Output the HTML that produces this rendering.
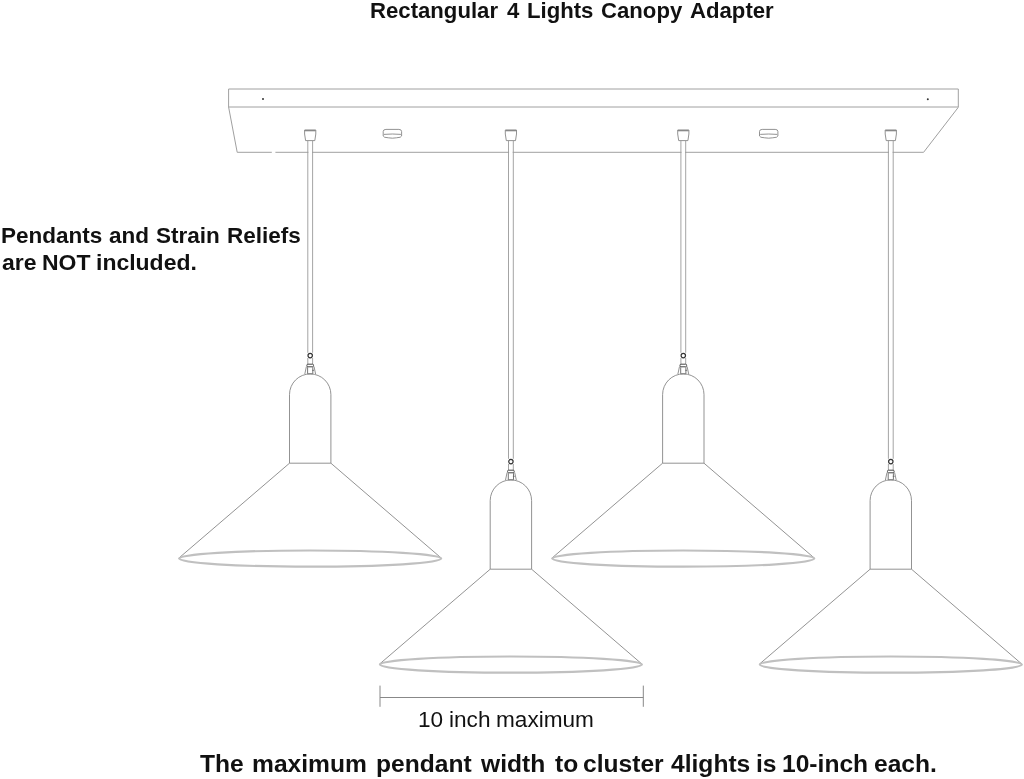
<!DOCTYPE html>
<html><head><meta charset="utf-8"><style>
html,body{margin:0;padding:0;background:#fff;width:1024px;height:779px;overflow:hidden;}
body{position:relative;font-family:"Liberation Sans",sans-serif;color:#111;}
svg{position:absolute;left:0;top:0;}
.ln{fill:none;stroke:#808080;stroke-width:0.85;}
.can{fill:none;stroke:#a0a0a0;stroke-width:1;}
.cord{fill:none;stroke:#9a9a9a;stroke-width:0.9;}
.dk{fill:none;stroke:#444;stroke-width:1;}
.dk2{fill:none;stroke:#333;stroke-width:1.2;}
.mid{fill:none;stroke:#666;stroke-width:0.9;}
.band{fill:none;stroke:#888;stroke-width:1.4;}
.ln2{fill:none;stroke:#888;stroke-width:1;}
.rim{fill:none;stroke:#c0c0c0;stroke-width:2.2;}
.rim2{fill:none;stroke:#c4c4c4;stroke-width:1;}
.t{position:absolute;white-space:nowrap;font-weight:bold;transform-origin:0 0;}
.w{position:absolute;white-space:nowrap;transform-origin:0 0;will-change:transform;}
.tl{top:-2px;font-size:22px;font-weight:bold;}
.n1{top:221.5px;font-size:22px;line-height:27.8px;font-weight:bold;}
.n2{top:249.3px;font-size:22px;line-height:27.8px;font-weight:bold;}
.dm{top:707px;font-size:22px;}
.ft{top:751px;font-size:23px;font-weight:bold;}
</style></head><body>
<svg width="1024" height="779" viewBox="0 0 1024 779">
<path class="can" d="M228.6,89 H958.3 V107 H228.6 Z M228.6,107 L237.2,152.3 H923.6 L958.3,107.3"/>
<path d="M271.8,150.8 v3 h3.6 v-3 z" fill="#fff"/>
<circle cx="263" cy="99" r="1" fill="#333"/><circle cx="927.8" cy="99.3" r="1" fill="#333"/>
<path class="ln" d="M304.6,130 H315.8 V134 L314.8,140.6 H305.6 L304.6,134 Z"/><path class="band" d="M304.8,130.6 H315.6"/>
<rect x="308.4" y="150.8" width="3.6" height="3" fill="#fff"/>
<path class="ln" d="M505.3,130 H516.5 V134 L515.5,140.6 H506.3 L505.3,134 Z"/><path class="band" d="M505.5,130.6 H516.3"/>
<rect x="509.1" y="150.8" width="3.6" height="3" fill="#fff"/>
<path class="ln" d="M677.7,130 H688.9 V134 L687.9,140.6 H678.7 L677.7,134 Z"/><path class="band" d="M677.9,130.6 H688.7"/>
<rect x="681.5" y="150.8" width="3.6" height="3" fill="#fff"/>
<path class="ln" d="M885.2,130 H896.4 V134 L895.4,140.6 H886.2 L885.2,134 Z"/><path class="band" d="M885.4,130.6 H896.2"/>
<rect x="889.0" y="150.8" width="3.6" height="3" fill="#fff"/>
<path class="ln" d="M383.2,131.5 Q383.2,129.4 385.9,129.4 H398.9 Q401.6,129.4 401.6,131.5 V136 Q401.4,137.6 396.4,137.8 Q392.4,138.6 388.4,137.8 Q383.4,137.6 383.2,136 Z M383.9,134.4 Q392.4,133.6 400.9,134.4"/>
<path class="ln" d="M759.5,131.5 Q759.5,129.4 762.2,129.4 H775.2 Q777.9,129.4 777.9,131.5 V136 Q777.7,137.6 772.7,137.8 Q768.7,138.6 764.7,137.8 Q759.7,137.6 759.5,136 Z M760.2,134.4 Q768.7,133.6 777.2,134.4"/>
<path class="cord" d="M307.80,141 V352.8 M312.60,141 V352.8 M307.80,358.0 V364.0 M312.60,358.0 V364.0"/>
<circle class="dk2" cx="310.2" cy="355.6" r="2.2"/>
<rect class="dk" x="306.9" y="364.2" width="6.6" height="2.6" rx="1"/>
<path class="ln" d="M306.4,366.5 L304.8,374.0 M314.0,366.5 L315.6,374.0"/>
<path class="mid" d="M307.6,367.2 V373.8 H312.8 V367.2 M312.2,370.3 h1.8"/>
<path class="ln" d="M289.5,463.2 V394.6 A20.7,20.7 0 0 1 330.9,394.6 V463.2 Z"/>
<path class="ln" d="M289.5,463.2 L178.6,558.3 M330.9,463.2 L441.5,558.3"/>
<ellipse class="rim" cx="310.2" cy="558.6" rx="131" ry="8.1"/>
<path class="cord" d="M508.50,141 V458.8 M513.30,141 V458.8 M508.50,464.0 V470.0 M513.30,464.0 V470.0"/>
<circle class="dk2" cx="510.9" cy="461.6" r="2.2"/>
<rect class="dk" x="507.6" y="470.2" width="6.6" height="2.6" rx="1"/>
<path class="ln" d="M507.1,472.5 L505.5,480.0 M514.7,472.5 L516.3,480.0"/>
<path class="mid" d="M508.3,473.2 V479.8 H513.5 V473.2 M512.9,476.3 h1.8"/>
<path class="ln" d="M490.2,569.2 V500.6 A20.7,20.7 0 0 1 531.6,500.6 V569.2 Z"/>
<path class="ln" d="M490.2,569.2 L379.3,664.3 M531.6,569.2 L642.2,664.3"/>
<ellipse class="rim" cx="510.9" cy="664.6" rx="131" ry="8.1"/>
<path class="cord" d="M680.90,141 V352.8 M685.70,141 V352.8 M680.90,358.0 V364.0 M685.70,358.0 V364.0"/>
<circle class="dk2" cx="683.3" cy="355.6" r="2.2"/>
<rect class="dk" x="680.0" y="364.2" width="6.6" height="2.6" rx="1"/>
<path class="ln" d="M679.5,366.5 L677.9,374.0 M687.1,366.5 L688.7,374.0"/>
<path class="mid" d="M680.7,367.2 V373.8 H685.9 V367.2 M685.3,370.3 h1.8"/>
<path class="ln" d="M662.6,463.2 V394.6 A20.7,20.7 0 0 1 704.0,394.6 V463.2 Z"/>
<path class="ln" d="M662.6,463.2 L551.7,558.3 M704.0,463.2 L814.6,558.3"/>
<ellipse class="rim" cx="683.3" cy="558.6" rx="131" ry="8.1"/>
<path class="cord" d="M888.40,141 V458.8 M893.20,141 V458.8 M888.40,464.0 V470.0 M893.20,464.0 V470.0"/>
<circle class="dk2" cx="890.8" cy="461.6" r="2.2"/>
<rect class="dk" x="887.5" y="470.2" width="6.6" height="2.6" rx="1"/>
<path class="ln" d="M887.0,472.5 L885.4,480.0 M894.6,472.5 L896.2,480.0"/>
<path class="mid" d="M888.2,473.2 V479.8 H893.4 V473.2 M892.8,476.3 h1.8"/>
<path class="ln" d="M870.1,569.2 V500.6 A20.7,20.7 0 0 1 911.5,500.6 V569.2 Z"/>
<path class="ln" d="M870.1,569.2 L759.2,664.3 M911.5,569.2 L1022.1,664.3"/>
<ellipse class="rim" cx="890.8" cy="664.6" rx="131" ry="8.1"/>
<path class="ln2" d="M380,685.6 V706.8 M643.3,685.6 V706.8 M380,697.5 H643.3"/>
</svg>
<div class="w tl" style="left:370.31px;transform:scaleX(1.0069)">Rectangular</div>
<div class="w tl" style="left:507.11px;transform:scaleX(1.0069)">4</div>
<div class="w tl" style="left:527.07px;transform:scaleX(1.0069)">Lights</div>
<div class="w tl" style="left:600.52px;transform:scaleX(1.0069)">Canopy</div>
<div class="w tl" style="left:690.46px;transform:scaleX(1.0069)">Adapter</div>
<div class="w n1" style="left:0.84px;transform:scaleX(1.0235)">Pendants</div>
<div class="w n1" style="left:109.44px;transform:scaleX(1.0235)">and</div>
<div class="w n1" style="left:156.12px;transform:scaleX(1.0235)">Strain</div>
<div class="w n1" style="left:227.1px;transform:scaleX(1.0235)">Reliefs</div>
<div class="w n2" style="left:2.07px;transform:scaleX(1.0444)">are</div>
<div class="w n2" style="left:42.46px;transform:scaleX(1.0444)">NOT</div>
<div class="w n2" style="left:95.9px;transform:scaleX(1.0444)">included.</div>
<div class="w dm" style="left:417.6px;transform:scaleX(1.027)">10</div>
<div class="w dm" style="left:448.96px;transform:scaleX(1.027)">inch</div>
<div class="w dm" style="left:496.41px;transform:scaleX(1.027)">maximum</div>
<div class="w ft" style="left:199.96px;transform:scaleX(1.0697)">The</div>
<div class="w ft" style="left:251.63px;transform:scaleX(1.0697)">maximum</div>
<div class="w ft" style="left:375.98px;transform:scaleX(1.0697)">pendant</div>
<div class="w ft" style="left:480.99px;transform:scaleX(1.0697)">width</div>
<div class="w ft" style="left:555.22px;transform:scaleX(1.0697)">to</div>
<div class="w ft" style="left:583.4px;transform:scaleX(1.0697)">cluster</div>
<div class="w ft" style="left:671.4px;transform:scaleX(1.0697)">4lights</div>
<div class="w ft" style="left:756.0px;transform:scaleX(1.0697)">is</div>
<div class="w ft" style="left:781.51px;transform:scaleX(1.0697)">10-inch</div>
<div class="w ft" style="left:873.78px;transform:scaleX(1.0697)">each.</div>
</body></html>
